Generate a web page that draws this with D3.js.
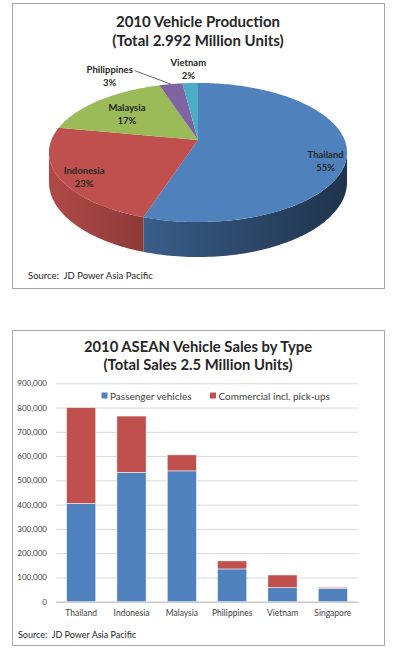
<!DOCTYPE html>
<html>
<head>
<meta charset="utf-8">
<script src="https://cdn.jsdelivr.net/npm/d3@7/dist/d3.min.js"></script>
<style>
  body { margin: 0; background: #fff; }
  text { font-family: Lato, "Open Sans", sans-serif; white-space: pre; }
</style>
</head>
<body>
<div id="chart"></div>
<script>
// --- 2010 vehicle production share (pie) ---
var countries = ["Thailand", "Indonesia", "Malaysia", "Philippines", "Vietnam"];
var shares = [55, 23, 17, 3, 2];
var pieColors = ["#4f81bd", "#c0504d", "#9bbb59", "#8064a2", "#4bacc6"];

// --- 2010 ASEAN sales by type (stacked bars) ---
var salesCats = ["Thailand", "Indonesia", "Malaysia", "Philippines", "Vietnam", "Singapore"];
var passenger = [405000, 533000, 539000, 135000, 58000, 55000];
var commercial = [395000, 232000, 66000, 33000, 52000, 4000];
var seriesNames = ["Passenger vehicles", "Commercial incl. pick-ups"];
var seriesColors = ["#4f81bd", "#c0504d"];
var yTicks = [0, 100000, 200000, 300000, 400000, 500000, 600000, 700000, 800000, 900000];

var width = 395, height = 663;

var svg = d3.select("#chart").append("svg")
    .attr("width", width)
    .attr("height", height);

var defs = svg.append("defs");

// panel frames
svg.append("rect").attr("x", 12.5).attr("y", 3.5).attr("width", 372).attr("height", 285)
    .attr("fill", "#fff").attr("stroke", "#a6a6a6");
svg.append("rect").attr("x", 12.5).attr("y", 330.5).attr("width", 372).attr("height", 315)
    .attr("fill", "#fff").attr("stroke", "#a6a6a6");

drawPie();
drawBars();

function drawPie() {
  var g = svg.append("g");

  g.append("text").attr("x", 198).attr("y", 27).attr("text-anchor", "middle")
      .attr("font-size", 15).attr("font-weight", "bold").attr("fill", "#262626")
      .text("2010 Vehicle Production");
  g.append("text").attr("x", 198).attr("y", 46).attr("text-anchor", "middle")
      .attr("font-size", 15).attr("font-weight", "bold").attr("fill", "#262626")
      .text("(Total 2.992 Million Units)");

  // tilted disk with a bit of perspective
  var cx = 198, cy = 140, A = 146.6, B = 67.3, k = 0.18, depth = 28.7;

  function proj(a, r, low) {
    var u = r * Math.sin(a), v = r * Math.cos(a), w = 1 + k * v;
    return [cx + A * u / w, cy - B * v / w + (low ? depth / w : 0)];
  }

  function arcPoints(a0, a1, r, low) {
    var n = Math.max(2, Math.ceil((a1 - a0) / 0.02)), pts = [];
    for (var i = 0; i <= n; i++) pts.push(proj(a0 + (a1 - a0) * i / n, r, low));
    return pts;
  }

  var arcs = d3.pie().sort(null).value(function(d) { return d; })(shares);

  // outer wall is visible between these angles (front of the disk)
  var visFrom = Math.acos(-k), visTo = 2 * Math.PI - Math.acos(-k);
  var line = d3.line();

  arcs.forEach(function(d, i) {
    var base = d3.color(pieColors[i]);
    var gr = defs.append("linearGradient").attr("id", "side" + i)
        .attr("gradientUnits", "userSpaceOnUse")
        .attr("x1", cx - 149).attr("x2", cx + 149).attr("y1", 0).attr("y2", 0);
    gr.append("stop").attr("offset", "0%").attr("stop-color", base.darker(0.25));
    gr.append("stop").attr("offset", "50%").attr("stop-color", base.darker(1.3));
    gr.append("stop").attr("offset", "100%").attr("stop-color", base.darker(2.6));

    var s = Math.max(d.startAngle, visFrom), e = Math.min(d.endAngle, visTo);
    if (e > s) {
      var pts = arcPoints(s, e, 1, false).concat(arcPoints(s, e, 1, true).reverse());
      g.append("path").attr("d", line(pts) + "Z").attr("fill", "url(#side" + i + ")");
    }
  });

  arcs.forEach(function(d, i) {
    var pts = [proj(0, 0, false)].concat(arcPoints(d.startAngle, d.endAngle, 1, false));
    g.append("path").attr("d", line(pts) + "Z").attr("fill", pieColors[i]);
  });

  // labels: inside for the big slices, outside for the thin ones
  var labelR = { Thailand: 0.86, Indonesia: 0.82, Malaysia: 0.7, Philippines: 1.32, Vietnam: 1.3 };
  var labelDx = { Thailand: 0, Indonesia: -2, Malaysia: 0, Philippines: -54, Vietnam: 0 };
  var labelDy = { Thailand: 12, Indonesia: 7, Malaysia: 3, Philippines: 6, Vietnam: 0 };

  arcs.forEach(function(d, i) {
    var name = countries[i], mid = (d.startAngle + d.endAngle) / 2;
    var p = proj(mid, labelR[name], false);
    var x = p[0] + labelDx[name], y = p[1] + labelDy[name];
    var t = g.append("text").attr("text-anchor", "middle")
        .attr("font-size", 9.5).attr("font-weight", "bold").attr("fill", "#262626");
    t.append("tspan").attr("x", x).attr("y", y - 3).text(name);
    t.append("tspan").attr("x", x).attr("y", y + 10).text(d.data + "%");
    if (name === "Philippines") {
      var edge = proj(mid, 1.0, false);
      g.append("path")
          .attr("d", line([[x + 25, y - 5], [edge[0], edge[1]]]))
          .attr("stroke", "#404040").attr("stroke-width", 0.8).attr("fill", "none");
    }
  });

  g.append("text").attr("x", 28).attr("y", 279).attr("font-size", 9.5).attr("fill", "#262626")
      .text("Source:  JD Power Asia Pacific");
}

function drawBars() {
  var g = svg.append("g");

  g.append("text").attr("x", 198).attr("y", 352).attr("text-anchor", "middle")
      .attr("font-size", 14.8).attr("font-weight", "bold").attr("fill", "#262626")
      .text("2010 ASEAN Vehicle Sales by Type");
  g.append("text").attr("x", 198).attr("y", 370).attr("text-anchor", "middle")
      .attr("font-size", 14.8).attr("font-weight", "bold").attr("fill", "#262626")
      .text("(Total Sales 2.5 Million Units)");

  var x = d3.scaleBand().domain(salesCats).range([56, 358])
      .paddingInner(0.42).paddingOuter(0.21);
  var y = d3.scaleLinear().domain([0, 900000]).range([601.7, 383.3]);

  var yAxis = g.append("g").attr("transform", "translate(56,0)")
      .call(d3.axisLeft(y).tickValues(yTicks).tickSize(-302).tickPadding(9)
          .tickFormat(d3.format(",")));
  yAxis.select(".domain").remove();
  yAxis.selectAll("line").attr("stroke", "#d9d9d9");
  yAxis.selectAll("text").attr("font-size", 8).attr("fill", "#404040")
      .attr("font-family", "Lato, sans-serif");

  var xAxis = g.append("g").attr("transform", "translate(0," + y(0) + ")")
      .call(d3.axisBottom(x).tickSize(0).tickPadding(8));
  xAxis.select(".domain").attr("stroke", "#bfbfbf");
  xAxis.selectAll("text").attr("font-size", 8.5).attr("fill", "#404040")
      .attr("font-family", "Lato, sans-serif");

  var rows = salesCats.map(function(c, i) {
    return { cat: c, p: passenger[i], c: commercial[i] };
  });
  var stacked = d3.stack().keys(["p", "c"])(rows);

  g.selectAll("g.series").data(stacked).enter().append("g")
      .attr("class", "series")
      .attr("fill", function(d, i) { return seriesColors[i]; })
    .selectAll("rect").data(function(d) { return d; }).enter().append("rect")
      .attr("x", function(d) { return x(d.data.cat); })
      .attr("width", x.bandwidth())
      .attr("y", function(d) { return y(d[1]); })
      .attr("height", function(d) { return y(d[0]) - y(d[1]); })
      .attr("stroke", "#fff").attr("stroke-width", 0.5);

  // legend
  var legendX = [101.5, 210];
  var leg = g.selectAll("g.legend").data(seriesNames).enter().append("g")
      .attr("class", "legend")
      .attr("transform", function(d, i) { return "translate(" + legendX[i] + ",396)"; });
  leg.append("rect").attr("x", 0).attr("y", -3.5).attr("width", 6).attr("height", 6)
      .attr("fill", function(d, i) { return seriesColors[i]; });
  leg.append("text").attr("x", 8.5).attr("y", 3.5).attr("font-size", 10).attr("fill", "#404040")
      .text(function(d) { return d; });

  g.append("text").attr("x", 18).attr("y", 638).attr("font-size", 9).attr("fill", "#262626")
      .text("Source:  JD Power Asia Pacific");
}
</script>
</body>
</html>
